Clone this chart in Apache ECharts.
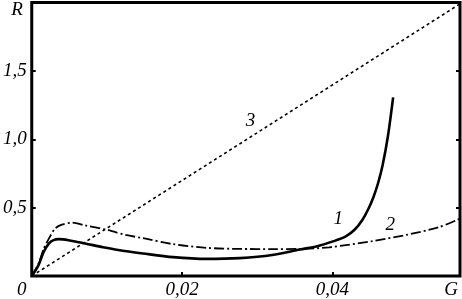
<!DOCTYPE html>
<html lang="ru">
<head>
    <meta charset="UTF-8">
    <title>R(G)</title>
    <style>
        html, body { margin: 0; padding: 0; background: #fff; }
        #chart { width: 462px; height: 299px; }
    </style>
</head>
<body>
<div id="chart"></div>
<script src="https://cdn.jsdelivr.net/npm/echarts@6/dist/echarts.min.js"></script>
<script>
    // кривая 1 (сплошная)
    var g1 = [0, 0.0009, 0.0016, 0.0023, 0.0029, 0.0036, 0.0049, 0.0071, 0.0095, 0.0115, 0.0148, 0.0188, 0.0233, 0.0277, 0.032, 0.0357, 0.038, 0.0402, 0.0418, 0.043, 0.044, 0.0448, 0.0455, 0.0461, 0.0467, 0.0474, 0.0481];
    var r1 = [0, 0.08, 0.177, 0.238, 0.262, 0.27, 0.262, 0.238, 0.21, 0.19, 0.165, 0.138, 0.125, 0.131, 0.153, 0.194, 0.218, 0.255, 0.29, 0.34, 0.41, 0.49, 0.58, 0.68, 0.81, 1.02, 1.306];
    // кривая 2 (штрихпунктир)
    var g2 = [0, 0.0009, 0.0016, 0.0023, 0.0031, 0.004, 0.0054, 0.0071, 0.0102, 0.0125, 0.0148, 0.0188, 0.0233, 0.0277, 0.032, 0.0357, 0.0396, 0.0453, 0.0498, 0.0542, 0.057];
    var r2 = [0, 0.09, 0.20, 0.275, 0.347, 0.376, 0.39, 0.37, 0.335, 0.30, 0.277, 0.233, 0.206, 0.198, 0.197, 0.198, 0.21, 0.255, 0.30, 0.357, 0.42];
    // прямая 3 (пунктир)
    var g3 = [0, 0.057];
    var r3 = [0, 1.99];
    // подписи кривых
    var curveNames = ['1', '2', '3'];
    var namePos = [[0.0408, 0.42], [0.0477, 0.37], [0.0291, 1.13]];

    function pairs(g, r) {
        return g.map(function (v, i) { return [v, r[i]]; });
    }

    var font = { fontFamily: 'Liberation Serif', fontStyle: 'italic', fontSize: 19, color: '#000' };

    function mark(i) {
        return {
            symbol: 'circle',
            symbolSize: 1,
            silent: true,
            itemStyle: { color: 'rgba(0,0,0,0)' },
            label: Object.assign({ show: true, position: 'inside', formatter: curveNames[i] }, font),
            data: [{ coord: namePos[i] }]
        };
    }

    var mChart = echarts.init(document.getElementById('chart'));
    var option = {
        animation: false,
        grid: {
            left: 31.5, right: 2, top: 1.5, bottom: 22.5,
            show: true, borderColor: '#000', borderWidth: 3
        },
        xAxis: {
            type: 'value', min: 0, max: 0.057, interval: 0.02,
            axisLine: { show: false },
            splitLine: { show: false },
            axisTick: { inside: true, length: 4, lineStyle: { color: '#000', width: 2 } },
            axisLabel: Object.assign({
                margin: 4,
                formatter: function (v) {
                    if (v === 0) return '{z|0}';
                    if (v > 0.05) return '{g|G}';
                    return v.toFixed(2).replace('.', ',');
                },
                rich: {
                    z: Object.assign({ padding: [0, 20, 0, 0] }, font),
                    g: Object.assign({ padding: [0, 18, 0, 0] }, font)
                }
            }, font)
        },
        yAxis: [{
            type: 'value', min: 0, max: 2, interval: 0.5,
            axisLine: { show: false },
            splitLine: { show: false },
            axisTick: { inside: true, length: 4, lineStyle: { color: '#000', width: 2 } },
            axisLabel: Object.assign({
                margin: 5,
                formatter: function (v) {
                    if (v === 0) return '';
                    if (v === 2) return '{r|R}';
                    return v.toFixed(1).replace('.', ',');
                },
                rich: {
                    r: Object.assign({ padding: [14, 4, 0, 0] }, font)
                }
            }, font)
        }, {
            type: 'value', min: 0, max: 2, interval: 0.5, position: 'right',
            axisLine: { show: false },
            splitLine: { show: false },
            axisTick: { inside: true, length: 4, lineStyle: { color: '#000', width: 2 } },
            axisLabel: { show: false }
        }],
        series: [{
            type: 'line', data: pairs(g1, r1), smooth: 0.3, showSymbol: false,
            lineStyle: { color: '#000', width: 2.6 },
            markPoint: mark(0)
        }, {
            type: 'line', data: pairs(g2, r2), smooth: 0.3, showSymbol: false,
            lineStyle: { color: '#000', width: 1.8, type: [10, 3, 2, 3] },
            markPoint: mark(1)
        }, {
            type: 'line', data: pairs(g3, r3), showSymbol: false,
            lineStyle: { color: '#000', width: 1.6, type: [3, 3] },
            markPoint: mark(2)
        }]
    };
    mChart.setOption(option);
</script>
</body>
</html>
